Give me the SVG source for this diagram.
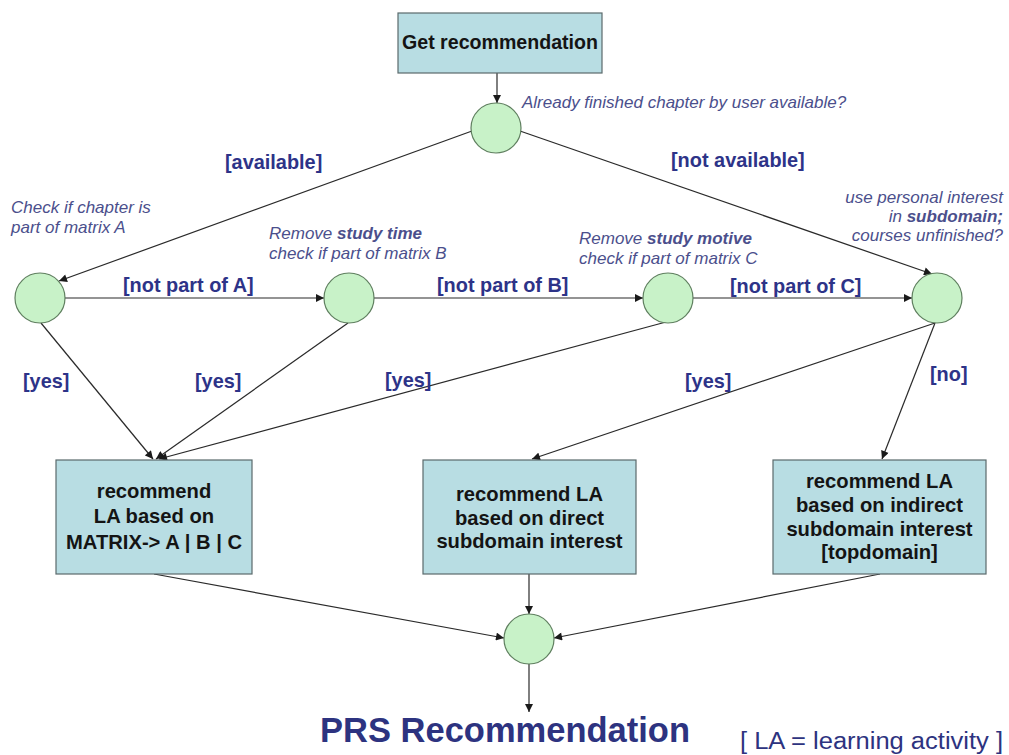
<svg xmlns="http://www.w3.org/2000/svg" width="1009" height="755" viewBox="0 0 1009 755">
<defs>
<style>
.box{fill:#b8dde3;stroke:#5a6a6c;stroke-width:1.2}
.dec{fill:#c8f2c8;stroke:#5f7f5f;stroke-width:1.2}
.edge{stroke:#2a2a2a;stroke-width:1.2;fill:none;marker-end:url(#ah)}
.bt{font-family:"Liberation Sans",Arial,sans-serif;font-weight:bold;font-size:20.2px;fill:#141414;text-anchor:middle}
.lbl{font-family:"Liberation Sans",Arial,sans-serif;font-weight:bold;font-size:19.9px;fill:#2d3388}
.it{font-family:"Liberation Sans",Arial,sans-serif;font-style:italic;font-size:17px;fill:#4b4f8c}
</style>
<marker id="ah" viewBox="0 0 10 10" refX="10" refY="5" markerWidth="9" markerHeight="8" orient="auto" markerUnits="userSpaceOnUse"><path d="M0,0 L10,5 L0,10 z" fill="#1a1a1a"/></marker>
</defs>
<rect width="1009" height="755" fill="#ffffff"/>

<g id="connectors">
<line class="edge" x1="497" y1="73" x2="497" y2="103"/>
<line class="edge" x1="472" y1="131" x2="59" y2="281"/>
<line class="edge" x1="520" y1="131" x2="932" y2="274"/>
<line class="edge" x1="65" y1="298" x2="324" y2="298"/>
<line class="edge" x1="374" y1="298" x2="643" y2="298"/>
<line class="edge" x1="693" y1="298" x2="912" y2="298"/>
<line class="edge" x1="41" y1="323" x2="153" y2="459"/>
<line class="edge" x1="348" y1="323" x2="156" y2="459"/>
<line class="edge" x1="666" y1="322" x2="159" y2="459"/>
<line class="edge" x1="935" y1="323" x2="532" y2="459"/>
<line class="edge" x1="935" y1="323" x2="882" y2="459"/>
<line class="edge" x1="154" y1="574" x2="504" y2="638"/>
<line class="edge" x1="529" y1="574" x2="529" y2="614"/>
<line class="edge" x1="880" y1="574" x2="554" y2="638"/>
<line class="edge" x1="529" y1="664" x2="529" y2="712"/>
</g>

<g id="edge-labels">
<text class="lbl" x="225" y="169">[available]</text>
<text class="lbl" x="671" y="167">[not available]</text>
<text class="lbl" x="123" y="292">[not part of A]</text>
<text class="lbl" x="437" y="292">[not part of B]</text>
<text class="lbl" x="730" y="293">[not part of C]</text>
<text class="lbl" x="23" y="388">[yes]</text>
<text class="lbl" x="195" y="388">[yes]</text>
<text class="lbl" x="385" y="387">[yes]</text>
<text class="lbl" x="685" y="388">[yes]</text>
<text class="lbl" x="930" y="381">[no]</text>
</g>

<g id="node-get">
<rect class="box" x="398" y="13" width="204" height="60"/>
<text class="bt" x="500" y="49" style="font-size:19.6px">Get recommendation</text>
</g>

<g id="node-d1">
<circle class="dec" cx="496" cy="128" r="25"/>
<text class="it" x="522" y="108">Already finished chapter by user available?</text>
</g>

<g id="node-a">
<circle class="dec" cx="40" cy="298" r="25"/>
<text class="it" x="11" y="213">Check if chapter is</text>
<text class="it" x="11" y="233">part of matrix A</text>
</g>

<g id="node-b">
<circle class="dec" cx="349" cy="298" r="25"/>
<text class="it" x="269" y="239">Remove <tspan font-weight="bold">study time</tspan></text>
<text class="it" x="269" y="259">check if part of matrix B</text>
</g>

<g id="node-c">
<circle class="dec" cx="668" cy="298" r="25"/>
<text class="it" x="579" y="244">Remove <tspan font-weight="bold">study motive</tspan></text>
<text class="it" x="579" y="264">check if part of matrix C</text>
</g>

<g id="node-d">
<circle class="dec" cx="937" cy="298" r="25"/>
<text class="it" x="1003" y="203" text-anchor="end">use personal interest</text>
<text class="it" x="1003" y="222" text-anchor="end">in <tspan font-weight="bold">subdomain;</tspan></text>
<text class="it" x="1003" y="241" text-anchor="end">courses unfinished?</text>
</g>

<g id="node-box1">
<rect class="box" x="56" y="460" width="196" height="114"/>
<text class="bt" x="154" y="498">recommend</text>
<text class="bt" x="154" y="523">LA based on</text>
<text class="bt" x="154" y="549">MATRIX-&gt; A | B | C</text>
</g>

<g id="node-box2">
<rect class="box" x="423" y="460" width="213" height="114"/>
<text class="bt" x="529.5" y="501">recommend LA</text>
<text class="bt" x="529.5" y="525">based on direct</text>
<text class="bt" x="529.5" y="548">subdomain interest</text>
</g>

<g id="node-box3">
<rect class="box" x="773" y="460" width="213" height="114"/>
<text class="bt" x="879.5" y="488">recommend LA</text>
<text class="bt" x="879.5" y="512">based on indirect</text>
<text class="bt" x="879.5" y="536">subdomain interest</text>
<text class="bt" x="879.5" y="559">[topdomain]</text>
</g>

<g id="node-merge">
<circle class="dec" cx="529" cy="639" r="25"/>
</g>

<g id="node-result">
<text x="320" y="742" font-family="'Liberation Sans',Arial,sans-serif" font-weight="bold" font-size="35" fill="#2d3380" textLength="370" lengthAdjust="spacingAndGlyphs">PRS Recommendation</text>
</g>

<g id="legend">
<text x="740" y="749" font-family="'Liberation Sans',Arial,sans-serif" font-size="23" fill="#2d3380" textLength="263" lengthAdjust="spacingAndGlyphs">[ LA = learning activity ]</text>
</g>
</svg>
